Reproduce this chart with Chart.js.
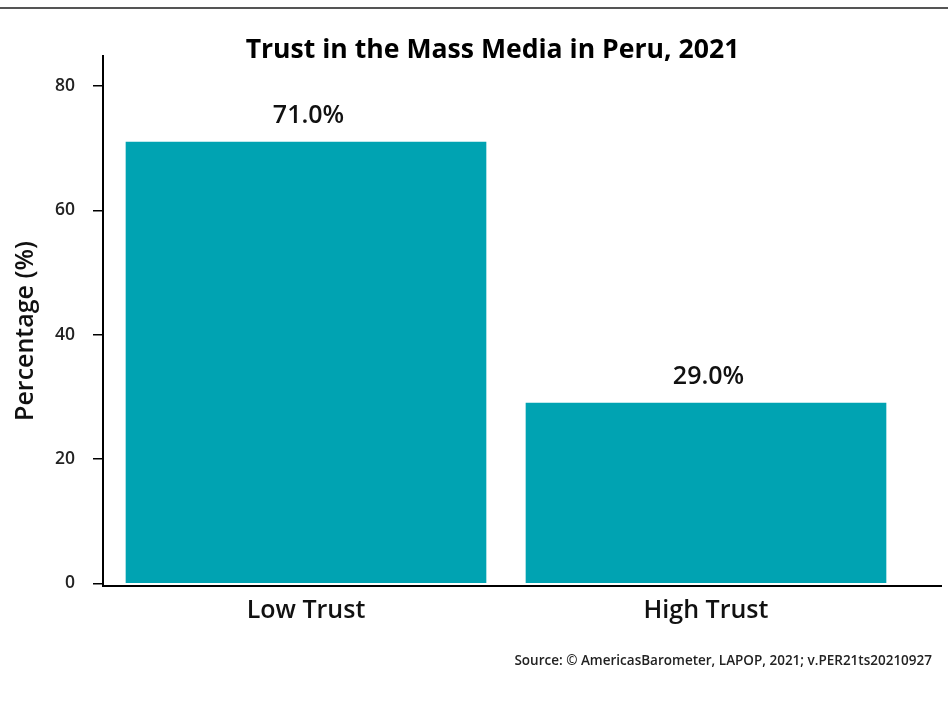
<!DOCTYPE html>
<html><head><meta charset="utf-8">
<script src="https://cdn.jsdelivr.net/npm/chart.js@4/dist/chart.umd.min.js"></script>
<style>html,body{margin:0;padding:0;background:#fff;overflow:hidden}#wrap{width:948px;height:709px}</style>
</head><body><div id="wrap"><canvas id="c" width="948" height="709"></canvas></div>
<script>
const categories = ['Low Trust', 'High Trust'];
const values = [71.0, 29.0];
const yTicks = [0, 20, 40, 60, 80];
const chartTitle = 'Trust in the Mass Media in Peru, 2021';
const yTitle = 'Percentage (%)';
const sourceNote = 'Source: \u00A9 AmericasBarometer, LAPOP, 2021; v.PER21ts20210927';

const FONT = "'Open Sans', 'Noto Sans', sans-serif";
const BAR_COLOR = '#00A3B2';

const decor = {
  id: 'decor',
  afterDraw(chart) {
    const ctx = chart.ctx;
    ctx.save();
    // top rule
    ctx.strokeStyle = '#555';
    ctx.lineWidth = 2;
    ctx.beginPath(); ctx.moveTo(0, 8); ctx.lineTo(chart.width, 8); ctx.stroke();
    // title
    ctx.fillStyle = '#000';
    ctx.textAlign = 'center';
    ctx.textBaseline = 'alphabetic';
    ctx.font = `700 26.6px ${FONT}`;
    ctx.fillText(chartTitle, 492.5, 58);
    // y title
    ctx.save();
    ctx.translate(33, 331);
    ctx.rotate(-Math.PI / 2);
    ctx.font = `600 25px ${FONT}`;
    ctx.fillStyle = '#111';
    ctx.fillText(yTitle, 0, 0);
    ctx.restore();
    // value labels
    const meta = chart.getDatasetMeta(0);
    ctx.font = `600 25px ${FONT}`;
    ctx.fillStyle = '#111';
    meta.data.forEach((bar, i) => {
      ctx.fillText(values[i].toFixed(1) + '%', bar.x + 2.5, bar.y - 19);
    });
    // source
    ctx.textAlign = 'right';
    ctx.font = `600 13.5px ${FONT}`;
    ctx.fillStyle = '#222';
    ctx.fillText(sourceNote, 932, 665);
    ctx.restore();
  }
};

new Chart(document.getElementById('c'), {
  type: 'bar',
  data: {
    datasets: [{
      data: values.map((v, i) => ({ x: i, y: v })),
      backgroundColor: BAR_COLOR,
      barThickness: 360,
      borderWidth: 0
    }]
  },
  options: {
    responsive: false,
    animation: false,
    devicePixelRatio: 1,
    layout: { padding: { top: 56, right: 7, left: 0, bottom: 0 } },
    plugins: { legend: { display: false }, tooltip: { enabled: false }, title: { display: false } },
    scales: {
      x: {
        type: 'linear',
        offset: false,
        min: -0.5075, max: 1.5875,
        afterFit: s => { s.height = 123; },
        afterBuildTicks: s => { s.ticks = categories.map((c, i) => ({ value: i })); },
        grid: { display: false, drawTicks: false, offset: false },
        border: { display: true, color: '#000', width: 2 },
        ticks: {
          callback: v => categories[v],
          autoSkip: false, maxRotation: 0, padding: 10,
          color: '#111', font: { family: FONT, size: 25, weight: '600' }
        }
      },
      y: {
        min: -0.43, max: 84.83,
        afterFit: s => { s.width = 103; },
        afterBuildTicks: s => { s.ticks = yTicks.map(v => ({ value: v })); },
        grid: { display: true, drawOnChartArea: false, drawTicks: true, tickLength: 10, color: '#000', lineWidth: 1.5 },
        border: { display: true, color: '#000', width: 2 },
        ticks: { padding: 18, color: '#222', font: { family: FONT, size: 17.5, weight: '600' } }
      }
    }
  },
  plugins: [decor]
});
</script></body></html>
